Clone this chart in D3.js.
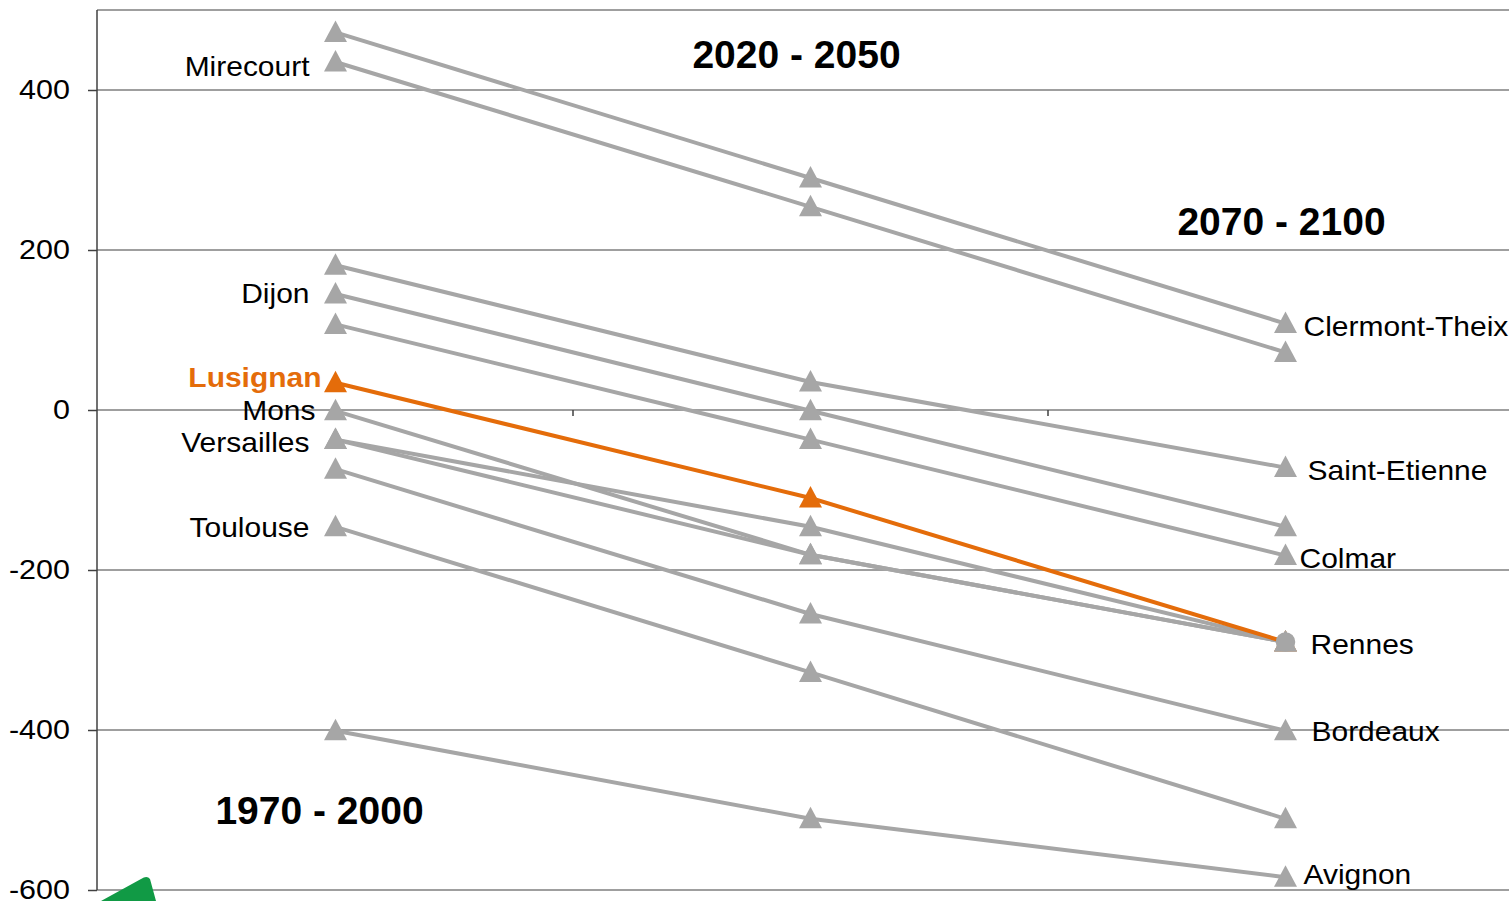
<!DOCTYPE html>
<html>
<head>
<meta charset="utf-8">
<script src="https://cdn.jsdelivr.net/npm/d3@7"></script>
<style>
  html, body { margin: 0; padding: 0; background: #fff; overflow: hidden; }
  text { font-family: "Liberation Sans", Arial, sans-serif; }
</style>
</head>
<body>
<svg id="chart" width="1509" height="901"></svg>
<script>
// ---- data ----
const periods = ["1970 - 2000", "2020 - 2050", "2070 - 2100"];
const cities = ["Clermont-Theix", "Mirecourt", "Saint-Etienne", "Dijon", "Colmar", "Lusignan",
                "Mons", "Versailles", "Rennes", "Bordeaux", "Toulouse", "Avignon"];
const values1970 = [472, 435, 181, 145, 107, 34, -1, -37, -37, -74, -146, -401];
const values2020 = [290, 254, 35, -1, -37, -110, -181, -146, -181, -255, -328, -511];
const values2070 = [108, 72, -72, -146, -182, -290, -290, -290, -290, -401, -511, -584];
const labelSide = ["right", "left", "right", "left", "right", "left", "left", "left", "right", "right", "left", "right"];
const endMarker = ["tri", "tri", "tri", "tri", "tri", "tri", "tri", "tri", "circle", "tri", "tri", "tri"];
const highlight = "Lusignan";
const yTicks = [-600, -400, -200, 0, 200, 400];
const yTop = 500;
const periodTitleValues = [-501, 445, 236];

// ---- scales ----
const svg = d3.select("#chart");
const x = d3.scaleBand().domain(periods).range([98, 1523]);
const xc = p => x(p) + x.bandwidth() / 2;
const y = d3.scaleLinear().domain([-600, yTop]).range([890, 10]);

const grey = "#a6a6a6", orange = "#e46c0a";
const FONT = "'Liberation Sans', Arial, sans-serif";

svg.append("rect").attr("width", 1509).attr("height", 901).attr("fill", "#fff");

// gridlines
svg.append("g").selectAll("line").data(yTicks.concat([yTop])).join("line")
  .attr("x1", 97).attr("x2", 1509)
  .attr("y1", d => y(d)).attr("y2", d => y(d))
  .attr("stroke", "#7f7f7f").attr("stroke-width", 1.5);

// y axis
const yAxis = svg.append("g").attr("transform", "translate(97,0)")
  .call(d3.axisLeft(y).tickValues(yTicks).tickSize(9).tickFormat(d => String(d)));
yAxis.select(".domain").attr("stroke", "#404040").attr("stroke-width", 1.5)
  .attr("d", `M0,${y(yTop)}V${y(-600)}`);
yAxis.selectAll(".tick line").attr("stroke", "#404040").attr("stroke-width", 1.5);
yAxis.selectAll(".tick text").attr("font-size", 27).attr("fill", "#000")
  .style("font-family", FONT)
  .attr("x", 0).attr("dy", "0.32em")
  .attr("transform", "translate(-27,0) scale(1.13,1)");

// x axis at 0 (band boundary ticks only)
const xAxis = svg.append("g").attr("transform", `translate(0,${y(0)})`);
const bounds = periods.map(p => x(p));
xAxis.selectAll("line").data(bounds.slice(1)).join("line")
  .attr("x1", d => d).attr("x2", d => d).attr("y1", 0).attr("y2", 6)
  .attr("stroke", "#404040").attr("stroke-width", 1.5);

// series
const series = cities.map((c, i) => ({
  name: c, side: labelSide[i], end: endMarker[i],
  pts: [values1970[i], values2020[i], values2070[i]].map((v, j) => ({ p: periods[j], v }))
}));
const linesOrder = series.filter(s => s.name !== highlight).concat(series.filter(s => s.name === highlight));
const markersOrder = series.filter(s => s.name === highlight).concat(series.filter(s => s.name !== highlight));

const line = d3.line().x(d => xc(d.p)).y(d => y(d.v));
const tri = "M0,-12L11.5,9.5L-11.5,9.5Z";
const col = s => s.name === highlight ? orange : grey;

const gLines = svg.append("g");
linesOrder.forEach(s => {
  gLines.append("path").attr("d", line(s.pts)).attr("fill", "none")
    .attr("stroke", col(s)).attr("stroke-width", 4);
});
const gMarks = svg.append("g");
markersOrder.forEach(s => {
  gMarks.append("g").selectAll("path").data(s.pts).join("path")
    .attr("d", (d, j) => (j === 2 && s.end === "circle") ? d3.symbol(d3.symbolCircle, 300)() : tri)
    .attr("transform", d => `translate(${xc(d.p)},${y(d.v)})`)
    .attr("fill", col(s));
});

// city labels (small placement nudges, in pixels)
const nudgeY = { "Lusignan": -8, "Mons": -3, "Avignon": -6, "Bordeaux": -2, "Toulouse": -2, "Dijon": -3, "Mirecourt": 2 };
const nudgeX = { "Mons": 6, "Saint-Etienne": 4, "Rennes": 7, "Bordeaux": 8, "Colmar": -4 };
const gL = svg.append("g");
series.forEach(s => {
  const left = s.side === "left";
  const pt = left ? s.pts[0] : s.pts[2];
  const isH = s.name === highlight;
  const tx = (left ? xc(pt.p) - (isH ? 14 : 26) : xc(pt.p) + 18) + (nudgeX[s.name] || 0);
  const ty = y(pt.v) + 3 + (nudgeY[s.name] || 0);
  gL.append("text")
    .attr("transform", `translate(${tx},${ty}) scale(1.11,1)`)
    .attr("dy", "0.35em")
    .attr("text-anchor", left ? "end" : "start")
    .attr("font-size", 27)
    .attr("font-weight", isH ? "bold" : "normal")
    .attr("fill", isH ? orange : "#000")
    .text(s.name);
});

// period titles
svg.append("g").selectAll("text").data(periods).join("text")
  .attr("x", (d, i) => xc(d) + [-16, -14, -4][i])
  .attr("y", (d, i) => y(periodTitleValues[i]))
  .attr("dy", "0.35em")
  .attr("text-anchor", "middle")
  .attr("font-size", 39).attr("font-weight", "bold").attr("fill", "#000")
  .text(d => d);

// partial green logo at bottom-left
svg.append("path")
  .attr("d", "M101,901 L141,879 Q147,875 150,879 L156,901 Z")
  .attr("fill", "#119a45");
</script>
</body>
</html>
